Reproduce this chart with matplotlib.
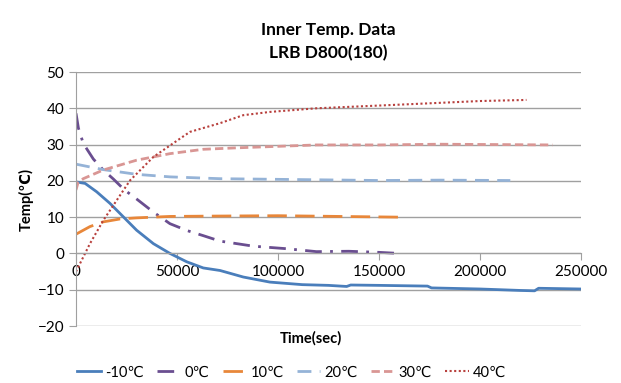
import matplotlib
matplotlib.use('Agg')
import matplotlib.pyplot as plt

plt.rcParams['font.family'] = ['Lato', 'DejaVu Sans']

# series (time in sec, temperature in degC)
t_m10 = [0, 4500, 10200, 16800, 23400, 30000, 38300, 46500, 54800, 63000, 71300,
         82800, 96000, 112000, 125000, 134000, 136000, 150000, 174000, 176000,
         200000, 220000, 227000, 229000, 250000]
v_m10 = [19.7, 19.3, 17.0, 13.8, 10.1, 6.4, 2.7, 0.0, -2.3, -4.0, -4.7,
         -6.5, -7.9, -8.6, -8.8, -9.1, -8.7, -8.8, -9.0, -9.5,
         -9.8, -10.2, -10.3, -9.6, -9.8]

t_0 = [0, 1200, 3600, 8600, 13500, 18500, 24000, 30000, 38300, 46500, 55000,
       63000, 71300, 87800, 104300, 119000, 135000, 150000, 160000]
v_0 = [38.6, 34.5, 30.3, 26.0, 23.0, 20.5, 17.5, 15.0, 11.4, 8.2, 6.3,
       4.9, 3.4, 2.0, 1.3, 0.5, 0.6, 0.3, 0.0]

t_10 = [0, 6900, 13500, 21800, 30000, 46500, 70000, 100000, 130000, 160000]
v_10 = [5.3, 7.4, 8.7, 9.5, 9.8, 10.2, 10.3, 10.4, 10.2, 10.0]

t_20 = [0, 13500, 30000, 46500, 71300, 119000, 150000, 180000, 215000]
v_20 = [24.6, 23.1, 21.8, 21.1, 20.6, 20.3, 20.1, 20.2, 20.1]

t_30 = [0, 1000, 3600, 13500, 30000, 46500, 63000, 79500, 119000, 150000,
        180000, 210000, 236000]
v_30 = [17.5, 19.5, 20.6, 23.0, 25.7, 27.5, 28.7, 29.1, 29.9, 29.9,
        30.1, 30.0, 29.9]

t_40 = [0, 6900, 13500, 20100, 26700, 38300, 54000, 56400, 71300, 82800,
        96000, 119000, 160000, 200000, 223000]
v_40 = [-5.0, 2.7, 9.1, 14.6, 20.1, 26.6, 32.6, 33.5, 35.9, 38.1,
        39.0, 40.0, 41.0, 42.0, 42.3]

labels = ['-10℃', '0℃', '10℃', '20℃', '30℃', '40℃']

fig = plt.figure(figsize=(6.21, 3.83), dpi=100)
ax = fig.add_axes([0.1224, 0.1488, 0.8132, 0.6632])

ax.plot(t_m10, v_m10, color='#4A7EBB', lw=2, ls='-', label=labels[0])
ax.plot(t_0, v_0, color='#6A4E90', lw=2, ls=(0, (6, 3, 1, 3)), label=labels[1])
ax.plot(t_10, v_10, color='#E8873A', lw=2, ls=(0, (7, 3)), label=labels[2])
ax.plot(t_20, v_20, color='#95B3D7', lw=2, ls=(0, (5, 3)), label=labels[3])
ax.plot(t_30, v_30, color='#D99694', lw=2, ls=(0, (3, 1.5)), label=labels[4])
ax.plot(t_40, v_40, color='#B8403D', lw=1.5, ls=(0, (1, 1.2)), label=labels[5])

ax.set_xlim(0, 250000)
ax.set_ylim(-20, 50)
ax.set_xticks(range(0, 250001, 50000))
ax.set_yticks(range(-20, 51, 10))
ax.grid(axis='y', color='#A0A0A0', lw=1)
ax.set_axisbelow(True)

for s in ['top', 'right']:
    ax.spines[s].set_visible(False)
ax.spines['bottom'].set_position(('data', 0))
ax.spines['bottom'].set_color('#A0A0A0')
ax.spines['left'].set_color('#A0A0A0')
ax.tick_params(axis='both', colors='#A0A0A0', labelcolor='black', labelsize=11, length=5)

ax.set_title('Inner Temp. Data\nLRB D800(180)', fontsize=12.5, fontweight='bold', pad=10,
             linespacing=1.55)
ax.set_ylabel('Temp(℃)', fontsize=10.5, fontweight='bold', labelpad=3)
fig.text(0.5, 0.117, 'Time(sec)', ha='center', va='center', fontsize=10.5, fontweight='bold')

fig.legend(loc='lower center', bbox_to_anchor=(0.47, -0.025), ncol=6, frameon=False,
           fontsize=10.5, handlelength=1.6, columnspacing=0.9, handletextpad=0.3)

fig.savefig('out.png', dpi=100)
